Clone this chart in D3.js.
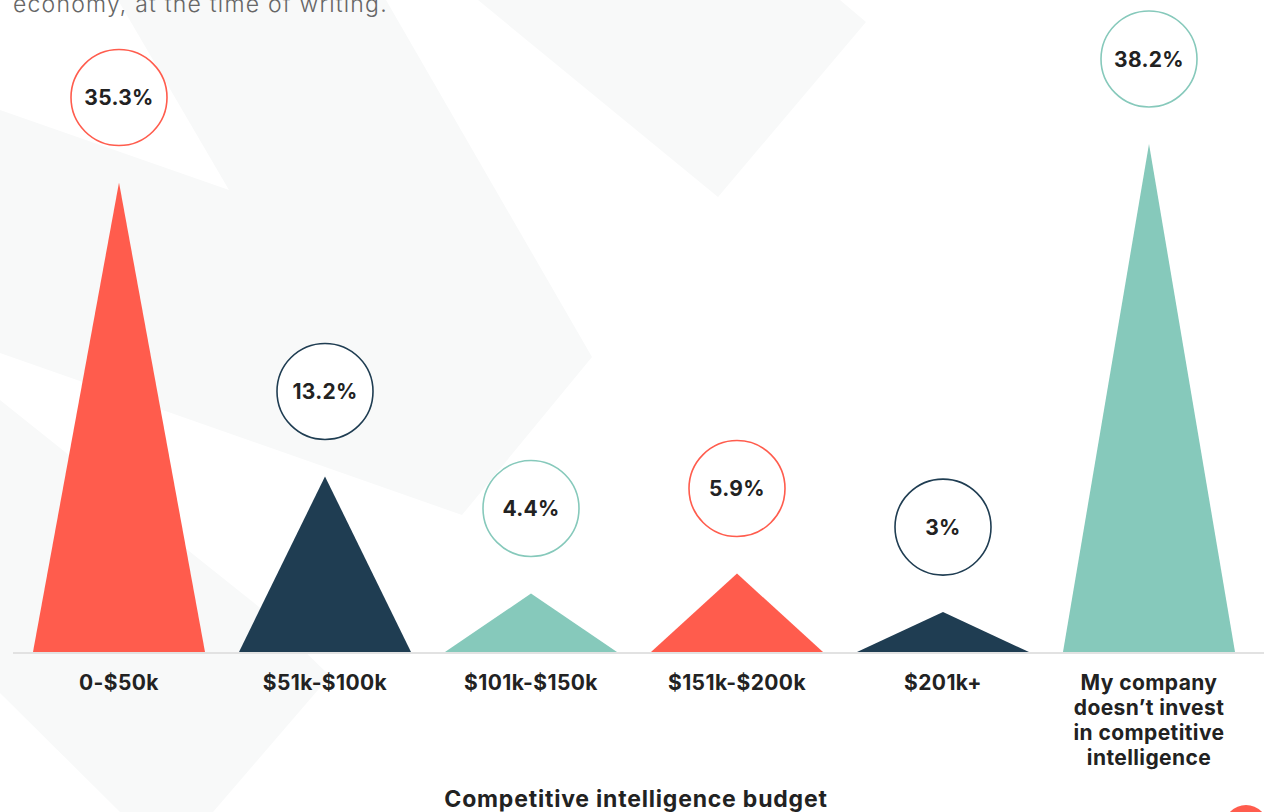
<!DOCTYPE html>
<html>
<head>
<meta charset="utf-8">
<script src="https://cdn.jsdelivr.net/npm/d3@7"></script>
<style>
  body { margin: 0; background: #fff; }
  svg { display: block; font-family: Inter, "Open Sans", sans-serif; }
</style>
</head>
<body>
<svg id="chart" width="1264" height="812"></svg>
<script>
const categories = ["0-$50k", "$51k-$100k", "$101k-$150k", "$151k-$200k", "$201k+",
    "My company doesn’t invest in competitive intelligence"]
const values = [35.3, 13.2, 4.4, 5.9, 3, 38.2]
const valueLabels = ["35.3%", "13.2%", "4.4%", "5.9%", "3%", "38.2%"]
const colors = ["#ff5c4d", "#1f3d52", "#86c9bb", "#ff5c4d", "#1f3d52", "#86c9bb"]
const xTitle = "Competitive intelligence budget"
const introText = "economy, at the time of writing."

const width = 1264, height = 812
const baseY = 652

const svg = d3.select("#chart")

// faint decorative background shapes
const bgShapes = [
    [[118,0],[386,0],[592,357],[462,515],[0,353],[0,110],[229,190]],
    [[478,0],[840,0],[866,22],[718,197]],
    [[0,400],[259,607],[330,676],[213,812],[120,812],[0,693]]
]
svg.append("g").selectAll("polygon")
    .data(bgShapes)
    .enter()
    .append("polygon")
        .attr("points", d => d.map(p => p.join(",")).join(" "))
        .style("fill", "#f8f9f9")

svg.append("circle")
    .attr("cx", 1246).attr("cy", 827).attr("r", 22)
    .style("fill", "#ff5c4d")

svg.append("text")
    .attr("x", 13).attr("y", 12)
    .style("font-size", "23px")
    .style("font-weight", 300)
    .style("letter-spacing", "1.2px")
    .style("fill", "#666")
    .text(introText)

const data = categories.map((c, i) => ({
    'cat': c, 'value': values[i], 'label': valueLabels[i], 'color': colors[i]
}))

const xRange = d3.scaleBand()
    .range([16, 1252])
    .domain(categories)
    .paddingInner(0.165)
    .paddingOuter(0.0825)

const yRange = d3.scaleLinear()
    .range([baseY, baseY - 40 * 13.3])
    .domain([0, 40])

// baseline
svg.append("line")
    .attr("x1", 13).attr("x2", width)
    .attr("y1", baseY + 1).attr("y2", baseY + 1)
    .style("stroke", "#e2e2e2")
    .style("stroke-width", 2)

svg.selectAll(".peak")
    .data(data)
    .enter()
    .append("path")
        .attr("class", "peak")
        .attr("d", function(d) {
            const x0 = xRange(d.cat), x1 = x0 + xRange.bandwidth()
            const xc = x0 + xRange.bandwidth() / 2
            return `M${x0},${baseY}L${xc},${yRange(d.value)}L${x1},${baseY}Z`
        })
        .style("fill", d => d.color)

const bubbles = svg.selectAll(".bubble")
    .data(data)
    .enter()
    .append("g")
        .attr("class", "bubble")
        .attr("transform", d => `translate(${xRange(d.cat) + xRange.bandwidth() / 2}, ${yRange(d.value) - 85})`)

bubbles.append("circle")
    .attr("r", 48)
    .style("fill", "#fff")
    .style("stroke", d => d.color)
    .style("stroke-width", 1.6)

bubbles.append("text")
    .attr("text-anchor", "middle")
    .attr("dy", "0.36em")
    .style("font-size", "21px")
    .style("font-weight", 700)
    .style("letter-spacing", "0.3px")
    .style("fill", "#222")
    .text(d => d.label)

// category labels, wrapped to the band width
const catLabels = svg.selectAll(".cat")
    .data(data)
    .enter()
    .append("text")
        .attr("class", "cat")
        .attr("text-anchor", "middle")
        .attr("x", d => xRange(d.cat) + xRange.bandwidth() / 2)
        .attr("y", 690)
        .style("font-size", "21px")
        .style("font-weight", 700)
        .style("letter-spacing", "0.4px")
        .style("fill", "#222")
        .text(d => d.cat)

catLabels.each(function(d) {
    const text = d3.select(this)
    const words = d.cat.split(" ")
    const x = text.attr("x")
    text.text(null)
    let line = []
    let lineNo = 0
    let tspan = text.append("tspan").attr("x", x).attr("y", 690)
    words.forEach(w => {
        line.push(w)
        tspan.text(line.join(" "))
        if (tspan.node().getComputedTextLength() > 165 && line.length > 1) {
            line.pop()
            tspan.text(line.join(" "))
            line = [w]
            lineNo++
            tspan = text.append("tspan").attr("x", x).attr("y", 690 + lineNo * 25).text(w)
        }
    })
})

svg.append("text")
    .attr("x", 636).attr("y", 807)
    .attr("text-anchor", "middle")
    .style("font-size", "23px")
    .style("font-weight", 700)
    .style("letter-spacing", "0.8px")
    .style("fill", "#222")
    .text(xTitle)
</script>
</body>
</html>
